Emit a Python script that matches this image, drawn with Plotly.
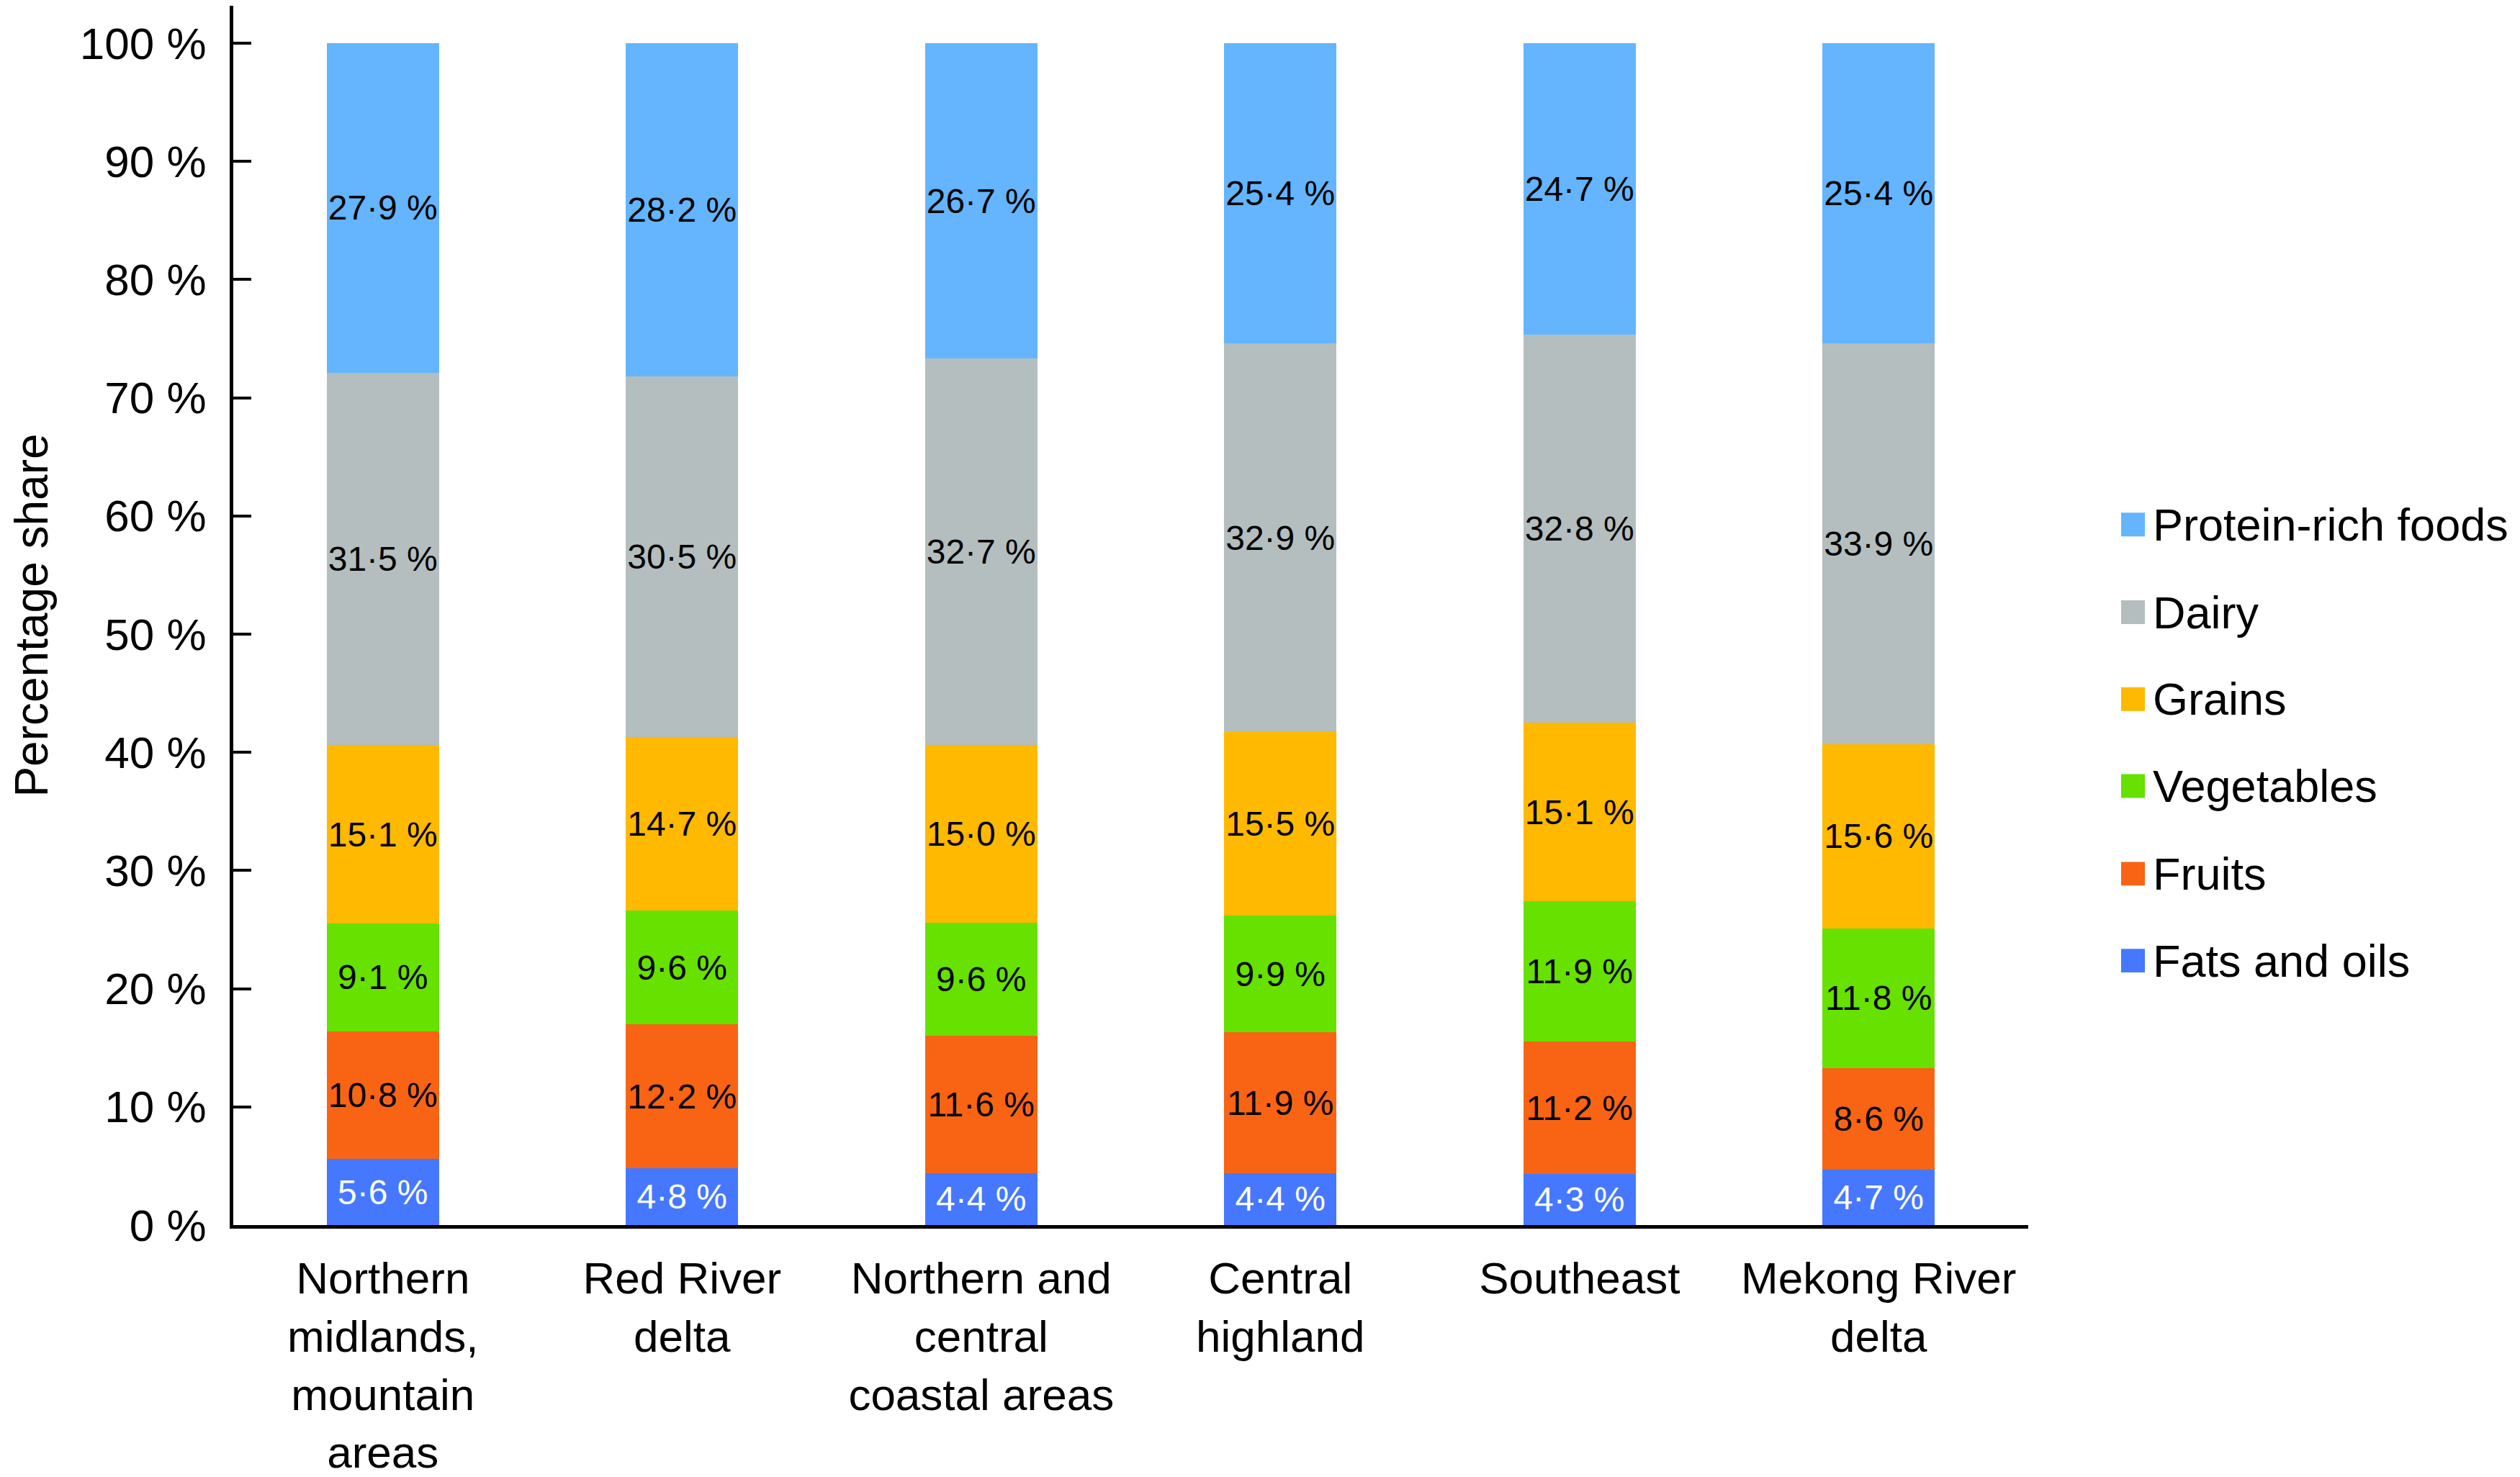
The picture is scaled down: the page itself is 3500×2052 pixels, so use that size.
import plotly.graph_objects as go

regions = ['Northern<br>midlands,<br>mountain<br>areas', 'Red River<br>delta',
           'Northern and<br>central<br>coastal areas', 'Central<br>highland',
           'Southeast', 'Mekong River<br>delta']

# stacked from bottom to top
series_names = ['Fats and oils', 'Fruits', 'Vegetables', 'Grains', 'Dairy', 'Protein-rich foods']
fats = [5.6, 4.8, 4.4, 4.4, 4.3, 4.7]
fruits = [10.8, 12.2, 11.6, 11.9, 11.2, 8.6]
vegetables = [9.1, 9.6, 9.6, 9.9, 11.9, 11.8]
grains = [15.1, 14.7, 15.0, 15.5, 15.1, 15.6]
dairy = [31.5, 30.5, 32.7, 32.9, 32.8, 33.9]
protein = [27.9, 28.2, 26.7, 25.4, 24.7, 25.4]
series_values = [fats, fruits, vegetables, grains, dairy, protein]

colors = ['rgb(70,120,255)', 'rgb(248,100,20)', 'rgb(102,225,0)',
          'rgb(255,185,0)', 'rgb(180,190,190)', 'rgb(100,181,253)']
text_colors = ['white', 'black', 'black', 'black', 'black', 'black']

y_ticks = [0, 10, 20, 30, 40, 50, 60, 70, 80, 90, 100]
y_ticktext = ['%d %%' % v for v in y_ticks]

FONT = 'Arial, Liberation Sans, sans-serif'
# the page adds an 8px body margin, so the figure is 16px smaller than the window
W, H = 3484, 2044
ML, MR, MT, MB = 316, 675, 0, 347

fig = go.Figure()
for name, vals, col, tcol in zip(series_names, series_values, colors, text_colors):
    fig.add_trace(go.Bar(
        x=regions,
        y=vals,
        name=name,
        marker=dict(color=col, line=dict(width=0)),
        text=[('%.1f' % v).replace('.', '\u00b7') + ' %' for v in vals],
        textposition='inside',
        insidetextanchor='middle',
        textangle=0,
        constraintext='none',
        textfont=dict(family=FONT, size=48, color=tcol),
        showlegend=False,
    ))

# legend drawn by hand so the colour squares can be as big as in the original
plot_w = W - ML - MR
plot_h = H - MT - MB
legend_y = [722, 844, 965, 1086, 1208, 1329]  # figure pixel rows, top item first
sq = 33
for i, (name, col) in enumerate(zip(series_names[::-1], colors[::-1])):
    yc = (plot_h - (legend_y[i] - MT)) / plot_h
    x0 = (2938 - ML) / plot_w
    fig.add_shape(type='rect', xref='paper', yref='paper',
                  x0=x0, x1=x0 + sq / plot_w,
                  y0=yc - sq / 2 / plot_h, y1=yc + sq / 2 / plot_h,
                  fillcolor=col, line=dict(width=0))
    fig.add_annotation(xref='paper', yref='paper', x=(2980 - ML) / plot_w, y=yc,
                       text=name, showarrow=False, xanchor='left', yanchor='middle',
                       font=dict(family=FONT, size=63, color='black'))

fig.update_layout(
    width=W, height=H,
    barmode='stack',
    bargap=0.624,
    plot_bgcolor='white',
    paper_bgcolor='white',
    margin=dict(l=ML, r=MR, t=MT, b=MB),
    font=dict(family=FONT, color='black'),
    showlegend=False,
    xaxis=dict(
        showline=True, linecolor='black', linewidth=5,
        ticks='', showgrid=False,
        tickfont=dict(family=FONT, size=62, color='black'),
        ticklabelstandoff=16,
    ),
    yaxis=dict(
        range=[0, 103.16],
        tickmode='array',
        tickvals=y_ticks,
        ticktext=y_ticktext,
        showline=True, linecolor='black', linewidth=5,
        ticks='inside', ticklen=25, tickwidth=4, tickcolor='black',
        showgrid=False, zeroline=False,
        tickfont=dict(family=FONT, size=62, color='black'),
        ticklabelstandoff=20,
        title=dict(text='Percentage share', font=dict(family=FONT, size=64, color='black'),
                   standoff=41),
    ),
)

fig.write_html('out.html')
